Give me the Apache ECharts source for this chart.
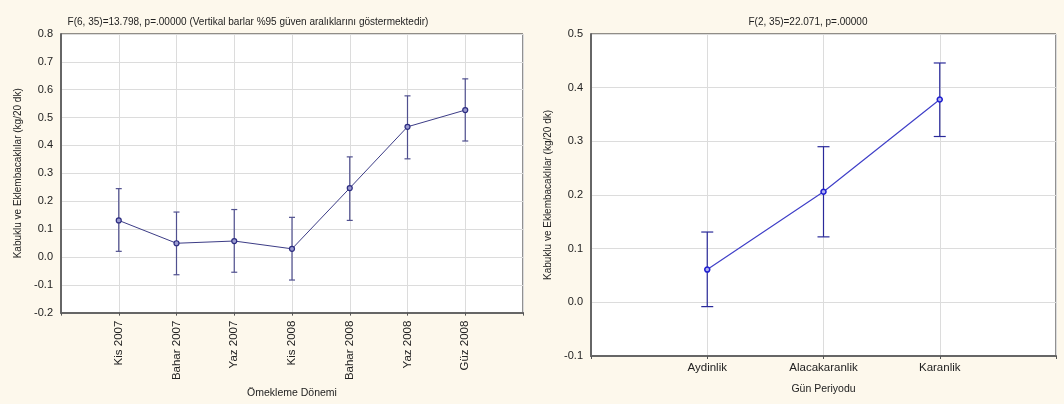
<!DOCTYPE html>
<html>
<head>
<meta charset="utf-8">
<script src="https://cdn.jsdelivr.net/npm/echarts@6/dist/echarts.min.js"></script>
<style>
  html, body { margin: 0; padding: 0; background: #fff; }
  #chart { width: 1064px; height: 404px; }
</style>
</head>
<body>
<div id="chart"></div>
<script>
// left panel: sampling periods
const donemCats = ['Kis 2007', 'Bahar 2007', 'Yaz 2007', 'Kis 2008', 'Bahar 2008', 'Yaz 2008', 'Güz 2008']
const donemMean = [0.131, 0.049, 0.057, 0.029, 0.247, 0.467, 0.527]
const donemLow = [0.020, -0.064, -0.055, -0.083, 0.131, 0.352, 0.416]
const donemHigh = [0.245, 0.161, 0.170, 0.142, 0.359, 0.578, 0.639]

// right panel: day periods
const gunCats = ['Aydinlik', 'Alacakaranlik', 'Karanlik']
const gunMean = [0.061, 0.206, 0.378]
const gunLow = [-0.008, 0.122, 0.309]
const gunHigh = [0.131, 0.290, 0.446]

const chart = echarts.init(document.getElementById('chart'))
const font = 'Liberation Sans, Arial, sans-serif'
const txt = '#222'

const toPts = (arr) => arr.map((v, i) => [i + 1, v])
const toBars = (lo, hi) => lo.map((v, i) => [i + 1, v, hi[i]])

// vertical error bar with small caps
const errBar = (capW) => (params, api) => {
  const x = api.value(0)
  const lo = api.coord([x, api.value(1)])
  const hi = api.coord([x, api.value(2)])
  const style = { stroke: api.visual('color'), lineWidth: 1.2 }
  return {
    type: 'group',
    children: [
      { type: 'line', shape: { x1: lo[0], y1: lo[1], x2: hi[0], y2: hi[1] }, style },
      { type: 'line', shape: { x1: hi[0] - capW, y1: hi[1], x2: hi[0] + capW, y2: hi[1] }, style },
      { type: 'line', shape: { x1: lo[0] - capW, y1: lo[1], x2: lo[0] + capW, y2: lo[1] }, style }
    ]
  }
}

const yAxisBase = {
  type: 'value',
  interval: 0.1,
  name: 'Kabuklu ve Eklembacaklılar (kg/20 dk)',
  nameLocation: 'middle',
  nameTextStyle: { color: txt, fontSize: 10, fontFamily: font },
  axisLine: { show: true, lineStyle: { color: '#666', width: 2 } },
  axisTick: { show: false },
  axisLabel: { color: txt, fontSize: 11, fontFamily: font, formatter: (v) => v.toFixed(1) },
  splitLine: { lineStyle: { color: '#dcdcdc' } }
}

const xAxisBase = {
  type: 'value',
  interval: 1,
  nameLocation: 'middle',
  nameTextStyle: { color: txt, fontSize: 10.5, fontFamily: font },
  axisLine: { show: true, onZero: false, lineStyle: { color: '#666', width: 2 } },
  axisTick: { show: true, length: 3, inside: false, lineStyle: { color: '#555' } },
  splitLine: { lineStyle: { color: '#dcdcdc' } }
}

const option = {
  backgroundColor: '#fdf8ec',
  animation: false,
  title: [
    {
      text: 'F(6, 35)=13.798, p=.00000 (Vertikal barlar %95 güven aralıklarını göstermektedir)',
      left: 243, top: 12, textAlign: 'center',
      textStyle: { color: txt, fontSize: 10, fontWeight: 'normal', fontFamily: font }
    },
    {
      text: 'F(2, 35)=22.071, p=.00000',
      left: 803, top: 12, textAlign: 'center',
      textStyle: { color: txt, fontSize: 10, fontWeight: 'normal', fontFamily: font }
    }
  ],
  grid: [
    { left: 61, right: 541, top: 34, bottom: 91, show: true, backgroundColor: '#fff', borderColor: '#222', borderWidth: 1 },
    { left: 591, right: 8, top: 34, bottom: 48, show: true, backgroundColor: '#fff', borderColor: '#222', borderWidth: 1 }
  ],
  xAxis: [
    {
      ...xAxisBase,
      gridIndex: 0,
      min: 0, max: donemCats.length + 1,
      name: 'Ömekleme Dönemi',
      nameGap: 67,
      axisLabel: {
        color: txt, fontSize: 11.5, fontFamily: font, rotate: 90,
        formatter: (v) => donemCats[v - 1] || ''
      }
    },
    {
      ...xAxisBase,
      gridIndex: 1,
      min: 0, max: gunCats.length + 1,
      name: 'Gün Periyodu',
      nameGap: 28,
      axisLabel: {
        color: txt, fontSize: 11.5, fontFamily: font, margin: 6,
        formatter: (v) => gunCats[v - 1] || ''
      }
    }
  ],
  yAxis: [
    { ...yAxisBase, gridIndex: 0, min: -0.2, max: 0.8, nameGap: 38 },
    { ...yAxisBase, gridIndex: 1, min: -0.1, max: 0.5, nameGap: 38 }
  ],
  series: [
    {
      type: 'custom',
      xAxisIndex: 0, yAxisIndex: 0,
      itemStyle: { color: '#50508f' },
      renderItem: errBar(3),
      data: toBars(donemLow, donemHigh),
      z: 2
    },
    {
      type: 'line',
      xAxisIndex: 0, yAxisIndex: 0,
      data: toPts(donemMean),
      symbol: 'circle',
      symbolSize: 5,
      lineStyle: { color: '#3c3c86', width: 1 },
      itemStyle: { color: '#9a9ad0', borderColor: '#2c2c80', borderWidth: 1.2 },
      z: 3
    },
    {
      type: 'custom',
      xAxisIndex: 1, yAxisIndex: 1,
      itemStyle: { color: '#2a2a9a' },
      renderItem: errBar(6),
      data: toBars(gunLow, gunHigh),
      z: 2
    },
    {
      type: 'line',
      xAxisIndex: 1, yAxisIndex: 1,
      data: toPts(gunMean),
      symbol: 'circle',
      symbolSize: 5,
      lineStyle: { color: '#4040c8', width: 1.2 },
      itemStyle: { color: '#b0b0f4', borderColor: '#2020d0', borderWidth: 1.5 },
      z: 3
    }
  ]
}
chart.setOption(option)
</script>
</body>
</html>
